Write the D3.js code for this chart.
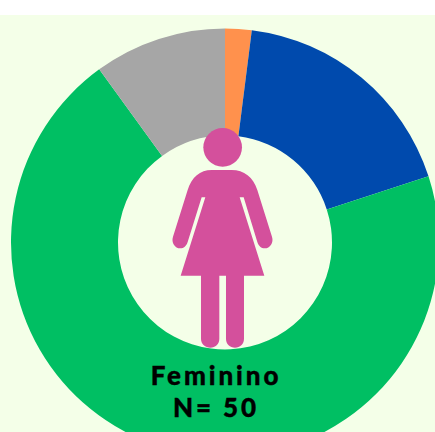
<!doctype html>
<html>
<head>
    <meta charset="utf-8">
    <script src="https://d3js.org/d3.v7.min.js"></script>
    <style>
        html, body { margin: 0; padding: 0; background: #fff; overflow: hidden; }
        svg { display: block; }
    </style>
</head>
<body>
    <script>
        // respostas do grupo feminino, N = 50
        var valores = [1, 9, 35, 5];
        var cores = ["#ff914d", "#004aad", "#00bf63", "#a6a6a6"];
        var titulo = ["Feminino", "N= 50"];

        var width = 435;
        var height = 432;
        var topo = 15;
        var cx = 225;
        var cy = 242.5;

        var svg = d3.select("body").append("svg")
                    .attr("width", width)
                    .attr("height", height);

        // fundo, deixa uma faixa branca em cima
        svg.append("rect")
           .attr("x", 0)
           .attr("y", topo)
           .attr("width", width)
           .attr("height", height - topo)
           .attr("fill", "#f4ffe8");

        var pie = d3.pie().sort(null);
        var arc = d3.arc().innerRadius(107).outerRadius(214);

        svg.append("g")
           .attr("transform", "translate(" + cx + "," + cy + ")")
           .selectAll("path")
           .data(pie(valores))
           .enter()
           .append("path")
           .attr("d", arc)
           .attr("fill", function(d, i){
               return cores[i];
           });

        // figura feminina, desenhada a 3x e reduzida no transform
        var figura = svg.append("g")
                        .attr("transform", "translate(150,120) scale(0.3333)")
                        .attr("fill", "#d4509c");

        figura.append("circle")
              .attr("cx", 218)
              .attr("cy", 82)
              .attr("r", 58);

        var corpo = "M185,150 L245,150 C282,150 310,172 322,210 L366,350 "
                  + "C372,368 360,385 344,385 C334,385 326,378 322,366 L281,232 L269,232 "
                  + "L343,467 L282,467 L282,656 C282,672 270,683 255,683 C240,683 228,672 228,656 "
                  + "L228,467 L208,467 L208,656 C208,672 196,683 181,683 C166,683 153,672 153,656 "
                  + "L153,467 L92,467 L166,232 L155,232 L113,366 C109,378 101,385 91,385 "
                  + "C75,385 63,368 69,350 L113,210 C125,172 150,150 185,150 Z";

        figura.append("path").attr("d", corpo);

        svg.selectAll("text")
           .data(titulo)
           .enter()
           .append("text")
           .attr("x", 216)
           .attr("y", function(d, i){
               return 385 + i * 31.5;
           })
           .attr("text-anchor", "middle")
           .attr("font-family", "Lato, sans-serif")
           .attr("font-weight", 900)
           .attr("font-size", 26)
           .attr("letter-spacing", 2.9)
           .attr("stroke", "#000")
           .attr("stroke-width", 0.4)
           .attr("fill", "#000")
           .text(function(d){
               return d;
           });
    </script>
</body>
</html>
